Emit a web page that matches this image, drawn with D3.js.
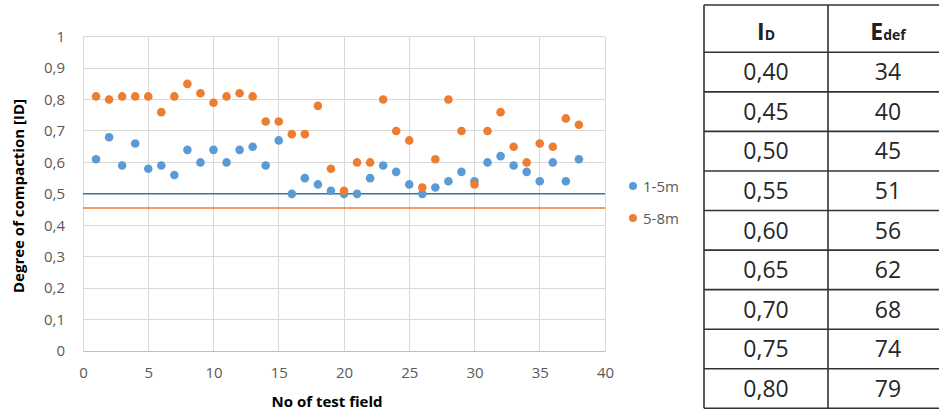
<!DOCTYPE html>
<html><head><meta charset="utf-8">
<script src="https://cdn.jsdelivr.net/npm/d3@7"></script>
<style>
html,body{margin:0;padding:0;background:#fff;}
svg{display:block;font-family:"Open Sans",sans-serif;}
</style></head>
<body><svg id="c" width="939" height="410"></svg>
<script>
const testField = d3.range(1, 39);
const series15 = [0.61,0.68,0.59,0.66,0.58,0.59,0.56,0.64,0.60,0.64,0.60,0.64,0.65,0.59,0.67,0.50,0.55,0.53,0.51,0.50,0.50,0.55,0.59,0.57,0.53,0.50,0.52,0.54,0.57,0.54,0.60,0.62,0.59,0.57,0.54,0.60,0.54,0.61];
const series58 = [0.81,0.80,0.81,0.81,0.81,0.76,0.81,0.85,0.82,0.79,0.81,0.82,0.81,0.73,0.73,0.69,0.69,0.78,0.58,0.51,0.60,0.60,0.80,0.70,0.67,0.52,0.61,0.80,0.70,0.53,0.70,0.76,0.65,0.60,0.66,0.65,0.74,0.72];
const seriesNames = ["1-5m","5-8m"];
const limitLines = [0.5, 0.455];
const xTicks = [0,5,10,15,20,25,30,35,40];
const yTicks = [0,0.1,0.2,0.3,0.4,0.5,0.6,0.7,0.8,0.9,1];
const tableID = [0.40,0.45,0.50,0.55,0.60,0.65,0.70,0.75,0.80];
const tableEdef = [34,40,45,51,56,62,68,74,79];

const colors = ["#5B9BD5","#ED7D31"];
const lineColors = ["#2E75B6","#ED7D31"];
const svg = d3.select("#c");
const x = d3.scaleLinear().domain([0,40]).range([83,605]);
const y = d3.scaleLinear().domain([0,1]).range([351,36.7]);
const comma = v => (v===1||v===0) ? String(v) : d3.format(".1f")(v).replace(".",",");

// gridlines
svg.append("g").selectAll("line").data(yTicks).join("line")
  .attr("x1",x(0)).attr("x2",x(40)).attr("y1",d=>y(d)).attr("y2",d=>y(d))
  .attr("stroke","#d9d9d9").attr("stroke-width",1).attr("shape-rendering","crispEdges");
svg.append("g").selectAll("line").data(xTicks).join("line")
  .attr("y1",y(0)).attr("y2",y(1)).attr("x1",d=>x(d)).attr("x2",d=>x(d))
  .attr("stroke","#d9d9d9").attr("stroke-width",1).attr("shape-rendering","crispEdges");

// axes
const ya = svg.append("g").attr("transform",`translate(${x(0)},0)`)
  .call(d3.axisLeft(y).tickValues(yTicks).tickFormat(comma).tickSize(0).tickPadding(18));
ya.select(".domain").attr("stroke","#d9d9d9");
ya.selectAll("text").attr("font-size",15).attr("fill","#595959").attr("font-family","Open Sans");
const xa = svg.append("g").attr("transform",`translate(0,${y(0)})`)
  .call(d3.axisBottom(x).tickValues(xTicks).tickFormat(d3.format("d")).tickSize(0).tickPadding(16));
xa.select(".domain").attr("stroke","#bfbfbf");
xa.selectAll("text").attr("font-size",15).attr("fill","#595959").attr("font-family","Open Sans");

// titles
svg.append("text").attr("x",327).attr("y",407).attr("text-anchor","middle")
  .attr("font-size",15).attr("font-weight","bold").attr("fill","#000").text("No of test field");
svg.append("text").attr("transform","translate(24,196) rotate(-90)").attr("text-anchor","middle")
  .attr("font-size",15).attr("font-weight","bold").attr("fill","#000").text("Degree of compaction [ID]");

// limit lines
svg.append("g").selectAll("line").data(limitLines).join("line")
  .attr("x1",x(0)).attr("x2",x(40)).attr("y1",d=>y(d)).attr("y2",d=>y(d))
  .attr("stroke",(d,i)=>lineColors[i]).attr("stroke-width",1.5);

// points
[series15, series58].forEach((s,si)=>{
  svg.append("g").selectAll("circle").data(s).join("circle")
    .attr("cx",(d,i)=>x(testField[i])).attr("cy",d=>y(d)).attr("r",4.3)
    .attr("fill",colors[si]);
});

// legend
seriesNames.forEach((n,i)=>{
  const ly = 186 + i*32;
  svg.append("circle").attr("cx",633).attr("cy",ly).attr("r",4).attr("fill",colors[i]);
  svg.append("text").attr("x",643).attr("y",ly+5.5).attr("font-size",15).attr("fill","#595959").text(n);
});

// table
const tx0 = 704, tx1 = 828, tx2 = 948, ty0 = 5, th0 = 52.3;
const rowH = (408.3 - th0) / tableID.length;
const tg = svg.append("g");
const rowsY = d3.range(tableID.length+1).map(i => th0 + i*rowH);
tg.selectAll("line.h").data([ty0].concat(rowsY)).join("line")
  .attr("x1",tx0).attr("x2",tx2).attr("y1",d=>d).attr("y2",d=>d)
  .attr("stroke","#333").attr("stroke-width",1.6);
tg.selectAll("line.v").data([tx0,tx1,tx2-1]).join("line")
  .attr("y1",ty0).attr("y2",rowsY[rowsY.length-1]).attr("x1",d=>d).attr("x2",d=>d)
  .attr("stroke","#333").attr("stroke-width",1.6);
const c1 = (tx0+tx1)/2, c2 = (tx1+tx2)/2;
// header
const h1 = tg.append("text").attr("x",c1).attr("y",40).attr("text-anchor","middle")
  .attr("font-size",23).attr("font-weight","bold").attr("fill","#222");
h1.append("tspan").text("I");
h1.append("tspan").attr("font-size",14).attr("dy",0).text("D");
const h2 = tg.append("text").attr("x",c2).attr("y",40).attr("text-anchor","middle")
  .attr("font-size",23).attr("font-weight","bold").attr("fill","#222");
h2.append("tspan").text("E");
h2.append("tspan").attr("font-size",14).attr("dy",0).text("def");
tableID.forEach((v,i)=>{
  const cy = rowsY[i] + rowH/2 + 8.3;
  tg.append("text").attr("x",c1).attr("y",cy).attr("text-anchor","middle")
    .attr("font-size",23).attr("fill","#262626").text(d3.format(".2f")(v).replace(".",","));
  tg.append("text").attr("x",c2).attr("y",cy).attr("text-anchor","middle")
    .attr("font-size",23).attr("fill","#262626").text(tableEdef[i]);
});
</script></body></html>
